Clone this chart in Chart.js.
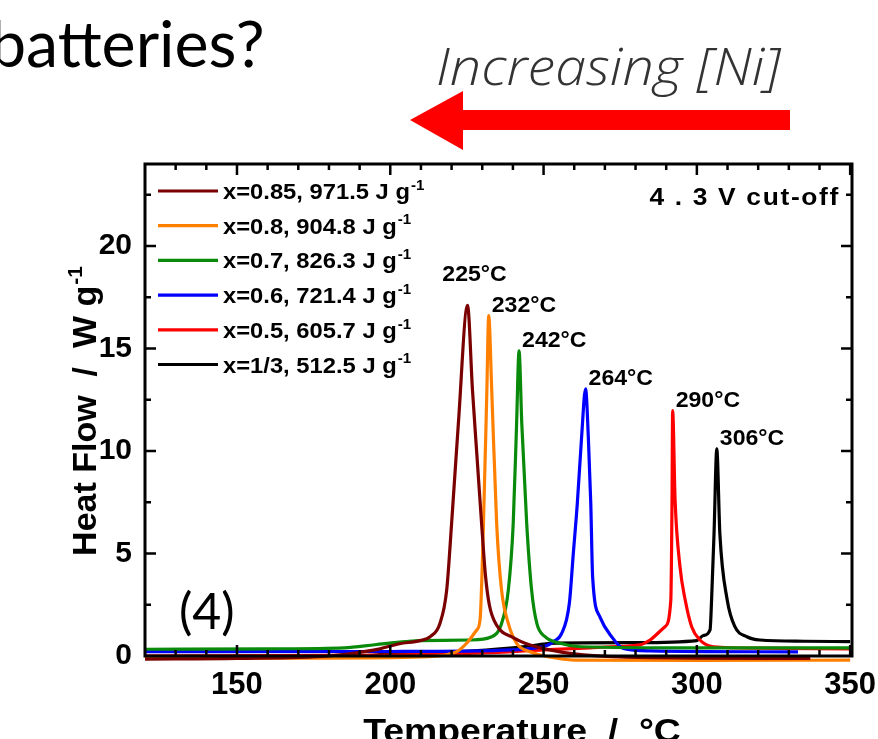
<!DOCTYPE html>
<html>
<head>
<meta charset="utf-8">
<script src="https://cdn.jsdelivr.net/npm/chart.js@4.4.1/dist/chart.umd.min.js"></script>
<style>
  html, body { margin:0; padding:0; background:#fff; }
  body { width:878px; height:739px; overflow:hidden; position:relative; }
  #wrap { position:absolute; left:0; top:0; width:878px; height:739px; }
  .note { position:absolute; white-space:nowrap; line-height:1; transform-origin:0 0; }
</style>
</head>
<body>
<div id="wrap"><canvas id="myChart"></canvas></div>
<div class="note" id="head" style="left:-10px;top:4px;font:64px Lato,sans-serif;color:#000;">batteries?</div>
<div class="note" id="trend" style="left:436px;top:29px;font:italic 300 52px 'Open Sans',sans-serif;color:#333;">Increasing [Ni]</div>
<svg style="position:absolute;left:0;top:0" width="878" height="200">
  <polygon points="410,120 463,91 463,110 790,110 790,130 463,130 463,150" fill="#ff0000"/>
</svg>
<div class="note" id="panel" style="left:179px;top:580px;font:50px Lato,sans-serif;color:#000;">(4)</div>
<script>
document.addEventListener('DOMContentLoaded',()=>{

// stretch the top notes so they span like in the slide
const trend = document.getElementById('trend');
trend.style.transform = 'scaleX(' + (345 / trend.offsetWidth) + ')';
const head = document.getElementById('head');
head.style.transform = 'scaleX(' + (275 / head.offsetWidth) + ')';

// series: Ni content, reaction heat, colours
const nickel   = ['0.85', '0.8', '0.7', '0.6', '0.5', '1/3'];
const enthalpy = ['971.5', '904.8', '826.3', '721.4', '605.7', '512.5'];
const colors   = ['#7a0000', '#ff8000', '#0a8a0a', '#0000ff', '#ff0000', '#000000'];

// peak labels (main exotherm)
const peakLabels = ['225', '232', '242', '264', '290', '306'];

// DSC curves, temperature (C) and heat flow (W/g)
const t085 = [120, 150, 180, 195, 203, 209.7, 213, 216.2, 218.4, 220, 222.2, 225.2, 226.8, 228.3, 230, 231, 232.3, 234.7, 240.1, 245.6, 252, 260, 275, 300, 337];
const h085 = [-0.15, -0.12, 0.0, 0.3, 0.6, 0.75, 0.94, 1.59, 3.21, 6.46, 11.32, 17.1, 13.0, 9.7, 6.0, 4.0, 2.5, 1.5, 0.9, 0.54, 0.3, 0.1, -0.05, -0.1, -0.12];

const t080 = [120, 180, 210, 218, 221.7, 224.9, 228.2, 229.3, 230.4, 231.5, 232.1, 233.1, 234.7, 236.3, 238.5, 241.2, 245.6, 252, 260, 300, 350];
const h080 = [-0.1, -0.1, -0.05, 0.05, 0.21, 0.62, 1.27, 1.8, 6.46, 12.94, 16.6, 12.94, 6.46, 3.21, 1.59, 0.62, 0.21, -0.05, -0.2, -0.22, -0.2];

const t070 = [120, 160, 185, 195, 205, 209.7, 226, 233.1, 236.3, 238.5, 240.1, 241.2, 242, 242.9, 244.5, 246.1, 247.8, 250.5, 255.4, 262, 300, 350];
const h070 = [0.33, 0.35, 0.4, 0.55, 0.7, 0.75, 0.78, 0.94, 1.59, 3.21, 6.46, 11.32, 14.89, 11.32, 6.46, 3.21, 1.59, 0.94, 0.62, 0.45, 0.4, 0.4];

const t060 = [120, 200, 240, 245, 251.5, 253.2, 255.9, 258.4, 259.7, 261, 262.4, 263.7, 264.6, 265.4, 266, 268.4, 272.2, 276, 285, 333];
const h060 = [0.21, 0.22, 0.3, 0.35, 0.54, 0.7, 1.1, 2.56, 5.0, 7.43, 10.67, 13.03, 10.67, 7.43, 3.86, 1.9, 0.94, 0.37, 0.25, 0.2];

const t050 = [120, 200, 230, 250, 265, 271.7, 281.4, 284.7, 289.6, 291.5, 291.9, 292.1, 292.9, 294.5, 296.2, 298.3, 301, 305.4, 320, 350];
const h050 = [0.0, 0.05, 0.15, 0.3, 0.4, 0.45, 0.54, 0.78, 1.43, 2.73, 7.59, 11.97, 7.59, 4.35, 2.73, 1.43, 0.78, 0.45, 0.38, 0.35];

const t033 = [120, 190, 200, 220, 240, 250, 252, 280, 300, 302.1, 304.3, 304.8, 305.6, 306.5, 307.5, 309.9, 312.4, 316.3, 320.6, 335, 350];
const h033 = [-0.02, 0.0, 0.1, 0.2, 0.4, 0.58, 0.62, 0.65, 0.75, 1.0, 1.27, 2.73, 5.97, 10.1, 5.97, 2.73, 1.43, 0.94, 0.78, 0.72, 0.7];

const temps = [t085, t080, t070, t060, t050, t033];
const flows = [h085, h080, h070, h060, h050, h033];

// axis ticks
const xTicks = [150, 200, 250, 300, 350];
const yTicks = [0, 5, 10, 15, 20];

const FONT = "'Liberation Sans', Arial, sans-serif";
const SX = 1.1; // the figure text is a bit wide

const datasets = temps.map((t, i) => ({
  label: 'x=' + nickel[i] + ', ' + enthalpy[i] + ' J g',
  data: t.map((x, k) => ({ x: x, y: flows[i][k] })),
  borderColor: colors[i],
  backgroundColor: colors[i],
  borderWidth: 3.2,
  pointRadius: 0,
  cubicInterpolationMode: 'monotone',
  clip: false
}));

// bold text, stretched by sx, with optional raised "-1"
function wideText(ctx, txt, sup, x, y, size, align, sx) {
  ctx.save();
  ctx.font = 'bold ' + size + 'px ' + FONT;
  const w1 = ctx.measureText(txt).width;
  let w2 = 0;
  const ss = Math.round(size * 0.62);
  if (sup) { ctx.font = 'bold ' + ss + 'px ' + FONT; w2 = ctx.measureText(sup).width + 1; }
  let x0 = 0;
  if (align === 'center') x0 = -(w1 + w2) / 2;
  if (align === 'right') x0 = -(w1 + w2);
  ctx.translate(x, y);
  ctx.scale(sx, 1);
  ctx.textAlign = 'left';
  ctx.font = 'bold ' + size + 'px ' + FONT;
  ctx.fillText(txt, x0, 0);
  if (sup) {
    ctx.font = 'bold ' + ss + 'px ' + FONT;
    ctx.fillText(sup, x0 + w1 + 1, -size * 0.42);
  }
  ctx.restore();
}

const framePlugin = {
  id: 'frame',
  afterDatasetsDraw(chart) {
    const { ctx, chartArea: a, scales: { x, y } } = chart;
    ctx.save();
    ctx.strokeStyle = '#000';
    ctx.lineWidth = 2.5;
    ctx.beginPath();
    // inward ticks, minor every 10 C / 2.5 W/g
    for (let v = 130; v <= 350; v += 10) {
      const px = x.getPixelForValue(v);
      const len = v % 50 === 0 ? 11 : 6;
      ctx.moveTo(px, a.bottom); ctx.lineTo(px, a.bottom - len);
      ctx.moveTo(px, a.top); ctx.lineTo(px, a.top + len);
    }
    for (let v = 2.5; v <= 22.5; v += 2.5) {
      const py = y.getPixelForValue(v);
      const len = v % 5 === 0 ? 11 : 6;
      ctx.moveTo(a.left, py); ctx.lineTo(a.left + len, py);
      ctx.moveTo(a.right, py); ctx.lineTo(a.right - len, py);
    }
    ctx.stroke();
    ctx.lineWidth = 3;
    ctx.strokeRect(a.left, a.top, a.right - a.left, a.bottom - a.top);
    ctx.restore();
  },
  afterDraw(chart) {
    const { ctx, chartArea: a, scales: { x, y } } = chart;
    ctx.save();
    ctx.fillStyle = '#000';
    ctx.textBaseline = 'alphabetic';

    // legend
    chart.data.datasets.forEach((ds, i) => {
      const ly = 191 + i * 34.7;
      ctx.strokeStyle = ds.borderColor;
      ctx.lineWidth = 3.2;
      ctx.beginPath();
      ctx.moveTo(158, ly); ctx.lineTo(218, ly);
      ctx.stroke();
      wideText(ctx, ds.label, '-1', 223, ly + 8, 22, 'left', 1.08);
    });

    // cut-off note
    ctx.save();
    ctx.letterSpacing = '1.5px';
    wideText(ctx, '4 . 3 V cut-off', '', 840, 205, 24, 'right', SX);
    ctx.restore();

    // peak temperatures
    chart.data.datasets.forEach((ds, i) => {
      let top = ds.data[0];
      ds.data.forEach(p => { if (p.y > top.y) top = p; });
      const px = x.getPixelForValue(top.x);
      const py = y.getPixelForValue(top.y);
      if (i === 0) wideText(ctx, peakLabels[i] + '°C', '', px + 7, py - 24, 22, 'center', 1.05);
      else wideText(ctx, peakLabels[i] + '°C', '', px + 3, py - 4, 22, 'left', 1.05);
    });

    // axis titles
    ctx.save();
    ctx.translate(96, 411);
    ctx.rotate(-Math.PI / 2);
    wideText(ctx, 'Heat Flow  /  W g', '-1', 0, 0, 34, 'center', 1);
    ctx.restore();

    wideText(ctx, 'Temperature  /  °C', '', 522, 742, 34, 'center', SX);
    ctx.restore();
  }
};

const ctx = document.getElementById('myChart');
new Chart(ctx, {
  type: 'line',
  data: { datasets: datasets },
  options: {
    responsive: true,
    maintainAspectRatio: false,
    animation: false,
    devicePixelRatio: 1,
    layout: { padding: { left: 0, top: 164, right: 26, bottom: 0 } },
    plugins: { legend: { display: false }, tooltip: { enabled: false } },
    scales: {
      x: {
        type: 'linear',
        min: 120,
        max: 350.6,
        grid: { display: false, drawTicks: false },
        border: { display: false },
        afterBuildTicks: s => { s.ticks = xTicks.map(v => ({ value: v })); },
        afterFit: s => { s.height = 83; s.paddingLeft = 0; s.paddingRight = 0; },
        ticks: { color: '#000', padding: 11, maxRotation: 0, font: { family: FONT, size: 31, weight: 'bold' } }
      },
      y: {
        min: 0,
        max: 24,
        grid: { display: false, drawTicks: false },
        border: { display: false },
        afterBuildTicks: s => { s.ticks = yTicks.map(v => ({ value: v })); },
        afterFit: s => { s.width = 145; s.paddingTop = 0; s.paddingBottom = 0; },
        ticks: { color: '#000', padding: 13, font: { family: FONT, size: 30, weight: 'bold' } }
      }
    }
  },
  plugins: [framePlugin]
});

});
</script>
</body>
</html>
